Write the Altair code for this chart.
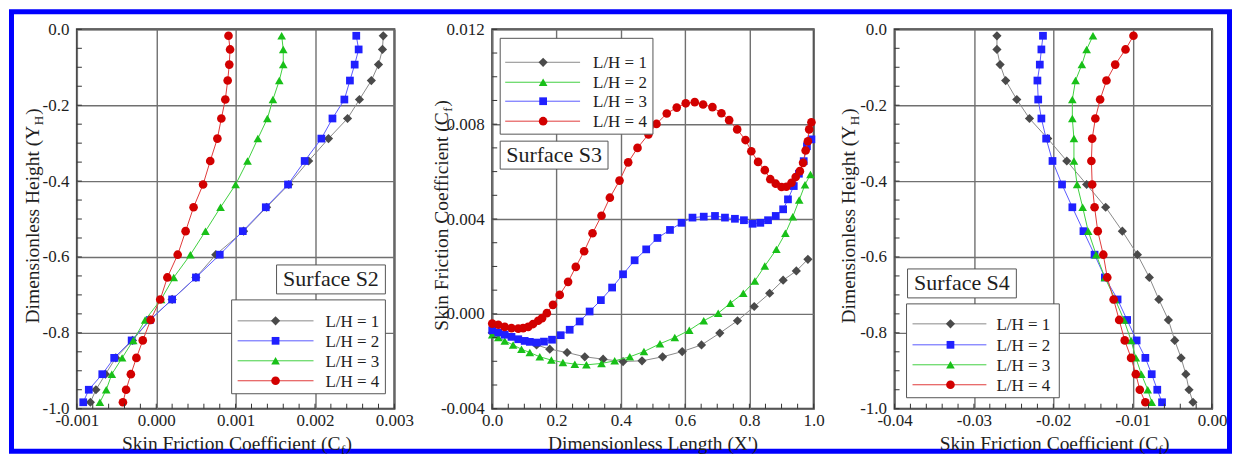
import altair as alt
import pandas as pd

FONT = "Liberation Serif"

# ---------------- data ----------------
# Surface S2 / S4 : profiles along dimensionless height
Y_PROFILE = [-0.017, -0.053, -0.093, -0.135, -0.185, -0.235, -0.288, -0.347, -0.409, -0.469,
             -0.532, -0.594, -0.654, -0.712, -0.766, -0.820, -0.866, -0.909, -0.950, -0.983]

S2_LH1 = [0.00286, 0.00285, 0.00280, 0.00271, 0.00256, 0.00241, 0.00217, 0.00192, 0.00167, 0.00139,
          0.00110, 0.00075, 0.00050, 0.00020, -0.00008, -0.00030, -0.00051, -0.00064, -0.00076, -0.00083]
S2_LH2 = [0.00252, 0.00255, 0.00250, 0.00244, 0.00237, 0.00222, 0.00208, 0.00187, 0.00166, 0.00138,
          0.00109, 0.00080, 0.00050, 0.00020, -0.00008, -0.00031, -0.00053, -0.00068, -0.00085, -0.00092]
S2_LH3 = [0.00158, 0.00160, 0.00160, 0.00155, 0.00147, 0.00140, 0.00128, 0.00115, 0.00100, 0.00081,
          0.00062, 0.00043, 0.00022, 0.00006, -0.00014, -0.00029, -0.00043, -0.00056, -0.00063, -0.00071]
S2_LH4 = [0.00091, 0.00093, 0.00092, 0.00090, 0.00087, 0.00082, 0.00077, 0.00068, 0.00059, 0.00047,
          0.00037, 0.00027, 0.00014, 0.00005, -0.00007, -0.00017, -0.00025, -0.00032, -0.00038, -0.00042]

S4_LH1 = [-0.0271, -0.0271, -0.0267, -0.0260, -0.0246, -0.0230, -0.0207, -0.0183, -0.0158, -0.0134,
          -0.0113, -0.0094, -0.0079, -0.0067, -0.0055, -0.0047, -0.0039, -0.0033, -0.0029, -0.0024]
S4_LH2 = [-0.0213, -0.0215, -0.0217, -0.0220, -0.0219, -0.0215, -0.0209, -0.0201, -0.0189, -0.0176,
          -0.0162, -0.0148, -0.0135, -0.0119, -0.0107, -0.0095, -0.0084, -0.0076, -0.0069, -0.0063]
S4_LH3 = [-0.0150, -0.0158, -0.0164, -0.0172, -0.0176, -0.0176, -0.0174, -0.0174, -0.0170, -0.0163,
          -0.0156, -0.0146, -0.0135, -0.0122, -0.0111, -0.0102, -0.0096, -0.0089, -0.0081, -0.0076]
S4_LH4 = [-0.0099, -0.0109, -0.0122, -0.0133, -0.0141, -0.0147, -0.0151, -0.0152, -0.0151, -0.0148,
          -0.0144, -0.0137, -0.0132, -0.0124, -0.0117, -0.0110, -0.0102, -0.0096, -0.0091, -0.0084]

# Surface S3 : distributions along dimensionless length
S3_LH1_X = [0.0, 0.138, 0.179, 0.233, 0.288, 0.345, 0.407, 0.466, 0.530, 0.591, 0.651, 0.708, 0.763,
            0.815, 0.863, 0.905, 0.946, 0.982]
S3_LH1_Y = [-0.00080, -0.00131, -0.00149, -0.00163, -0.00181, -0.00191, -0.00201, -0.00198, -0.00181,
            -0.00159, -0.00131, -0.00081, -0.00029, 0.00031, 0.00087, 0.00142, 0.00181, 0.00230]

S3_LH2_X = [0.0, 0.019, 0.039, 0.065, 0.091, 0.117, 0.148, 0.184, 0.220, 0.257, 0.293, 0.340, 0.381,
            0.428, 0.472, 0.522, 0.568, 0.613, 0.658, 0.703, 0.741, 0.781, 0.817, 0.848, 0.884, 0.912,
            0.935, 0.955, 0.973, 0.990]
S3_LH2_Y = [-0.00088, -0.00100, -0.00114, -0.00131, -0.00149, -0.00163, -0.00181, -0.00195, -0.00205,
            -0.00212, -0.00215, -0.00209, -0.00198, -0.00181, -0.00159, -0.00126, -0.00100, -0.00069,
            -0.00029, 0.00003, 0.00045, 0.00087, 0.00139, 0.00202, 0.00272, 0.00340, 0.00410, 0.00480,
            0.00545, 0.00588]

S3_LH3_X = [0.0, 0.019, 0.039, 0.060, 0.081, 0.101, 0.117, 0.138, 0.161, 0.186, 0.213, 0.241, 0.272,
            0.303, 0.338, 0.373, 0.407, 0.443, 0.479, 0.514, 0.553, 0.589, 0.623, 0.658, 0.693, 0.724,
            0.755, 0.783, 0.810, 0.834, 0.858, 0.882, 0.905, 0.920, 0.938, 0.954, 0.969, 0.979, 0.993]
S3_LH3_Y = [-0.00069, -0.00079, -0.00088, -0.00097, -0.00107, -0.00114, -0.00118, -0.00121, -0.00117,
            -0.00109, -0.00090, -0.00067, -0.00032, 0.00010, 0.00058, 0.00111, 0.00167, 0.00226,
            0.00272, 0.00320, 0.00354, 0.00384, 0.00406, 0.00410, 0.00413, 0.00406, 0.00401, 0.00395,
            0.00380, 0.00384, 0.00395, 0.00413, 0.00441, 0.00483, 0.00539, 0.00591, 0.00644, 0.00707,
            0.00736]

S3_LH4_X = [0.0, 0.019, 0.039, 0.060, 0.081, 0.096, 0.112, 0.127, 0.143, 0.155, 0.170, 0.189, 0.210,
            0.236, 0.260, 0.286, 0.312, 0.340, 0.366, 0.396, 0.423, 0.452, 0.486, 0.511, 0.543, 0.574,
            0.602, 0.630, 0.656, 0.685, 0.713, 0.737, 0.762, 0.788, 0.806, 0.827, 0.848, 0.865, 0.882,
            0.900, 0.915, 0.931, 0.944, 0.957, 0.967, 0.975, 0.982, 0.986, 0.993]
S3_LH4_Y = [-0.00041, -0.00046, -0.00055, -0.00060, -0.00062, -0.00060, -0.00055, -0.00043, -0.00029,
            -0.00018, 0.00003, 0.00038, 0.00080, 0.00135, 0.00198, 0.00264, 0.00340, 0.00414, 0.00490,
            0.00562, 0.00639, 0.00700, 0.00757, 0.00801, 0.00845, 0.00870, 0.00888, 0.00893, 0.00883,
            0.00872, 0.00846, 0.00817, 0.00778, 0.00733, 0.00686, 0.00641, 0.00606, 0.00568, 0.00549,
            0.00535, 0.00536, 0.00553, 0.00577, 0.00602, 0.00637, 0.00689, 0.00728, 0.00778, 0.00808]

LEGEND_LABELS = ["L/H = 1", "L/H = 2", "L/H = 3", "L/H = 4"]

# ticks
S2_XTICKS = [-0.001, 0.0, 0.001, 0.002, 0.003]
S4_XTICKS = [-0.04, -0.03, -0.02, -0.01, 0.0]
S3_XTICKS = [0.0, 0.2, 0.4, 0.6, 0.8, 1.0]
S3_YTICKS = [-0.004, 0.0, 0.004, 0.008, 0.012]
H_YTICKS = [0.0, -0.2, -0.4, -0.6, -0.8, -1.0]
S2_XMINOR = [round(-0.001 + 0.0002 * k, 5) for k in range(21)]
S4_XMINOR = [round(-0.04 + 0.002 * k, 4) for k in range(21)]
S3_XMINOR = [round(0.05 * k, 3) for k in range(21)]
S3_YMINOR = [round(-0.004 + 0.001 * k, 4) for k in range(17)]
H_YMINOR = [round(-1.0 + 0.05 * k, 3) for k in range(21)]

# ---------------- styles ----------------
GRAY = ("#8a8a8a", "#4a4a4a", "diamond", 85)
BLUE = ("#5a5aff", "#2020ff", "square", 60)
GREEN = ("#40d040", "#18c018", "triangle-up", 75)
RED = ("#e03a3a", "#d20000", "circle", 75)

W1, W2, W3, H = 318, 322, 318, 380
GRID = "#707070"
TXT = "#1e1e1e"
TITLE_Y = 421


def axis(values, fmt, orient):
    return alt.Axis(values=values, grid=True, gridColor=GRID, gridWidth=1.4, ticks=False,
                    domain=False, title=None, labelFont=FONT, labelFontSize=17, labelColor=TXT,
                    labelPadding=4 if orient == "x" else 8, labelFlush=False, labelOverlap=False,
                    labelExpr=f"replace(format(datum.value, '{fmt}'), '\u2212', '-')")


def series(xs, ys, style, xenc, yenc):
    df = pd.DataFrame({"x": xs, "y": ys, "i": list(range(len(xs)))})
    lc, mc, shape, size = style
    base = alt.Chart(df)
    line = base.mark_line(color=lc, strokeWidth=1).encode(x=xenc, y=yenc, order="i:Q")
    pts = base.mark_point(filled=True, shape=shape, size=size, color=mc, opacity=1,
                          strokeWidth=0).encode(x=xenc, y=yenc)
    return [line, pts]


def minor_ticks(xminor, yminor, xenc, yenc):
    dx = pd.DataFrame({"x": xminor})
    dy = pd.DataFrame({"y": yminor})
    tx = alt.Chart(dx).mark_rule(color="#333333", strokeWidth=1).encode(
        x=xenc, y=alt.value(H), y2=alt.value(H - 5))
    ty = alt.Chart(dy).mark_rule(color="#333333", strokeWidth=1).encode(
        y=yenc, x=alt.value(0), x2=alt.value(5))
    return [tx, ty]


def one():
    return pd.DataFrame({"a": [0]})


def txt(text, x, y, size=19.5, align="left", angle=0, baseline="alphabetic"):
    kw = dict(text=text, font=FONT, fontSize=size, align=align, baseline=baseline, color=TXT)
    if angle:
        kw["angle"] = angle
    return alt.Chart(one()).mark_text(**kw).encode(x=alt.value(x), y=alt.value(y))


def box(x1, x2, y1, y2):
    return alt.Chart(one()).mark_rect(fill="white", stroke="#555555", strokeWidth=1).encode(
        x=alt.value(x1), x2=alt.value(x2), y=alt.value(y1), y2=alt.value(y2))


def legend(styles, bx, by, rows, lx1, lx2, mx, tx, surf_label, sbx, sby, scx, scy):
    layers = [box(*bx, *by)]
    for lab, st, ry in zip(LEGEND_LABELS, styles, rows):
        lc, mc, shape, size = st
        layers.append(alt.Chart(one()).mark_rule(color=lc, strokeWidth=1).encode(
            x=alt.value(lx1), x2=alt.value(lx2), y=alt.value(ry)))
        layers.append(alt.Chart(one()).mark_point(filled=True, shape=shape, size=size, color=mc,
                                                  opacity=1, strokeWidth=0).encode(
            x=alt.value(mx), y=alt.value(ry)))
        layers.append(txt(lab, tx, ry + 6, size=17))
    layers.append(box(*sbx, *sby))
    layers.append(txt(surf_label, scx, scy + 7, size=22, align="center"))
    return layers


def cf_title_x(anchor, y):
    return [txt("Skin Friction Coefficient (C", anchor, y, align="right"),
            txt("f", anchor + 0.5, y + 4, size=13),
            txt(")", anchor + 5, y)]


def y_title(main, sub, x, anchor, subw):
    return [txt(main, x, anchor, align="right", angle=270),
            txt(sub, x + 4, anchor - 0.5, size=13, angle=270),
            txt(")", x, anchor - subw - 1.5, angle=270)]


# ---------------- panel S2 ----------------
x2 = alt.X("x:Q", scale=alt.Scale(domain=[-0.001, 0.003], nice=False, zero=False),
           axis=axis(S2_XTICKS, ".3f", "x"))
yh = alt.Y("y:Q", scale=alt.Scale(domain=[-1.0, 0.0], nice=False, zero=False),
           axis=axis(H_YTICKS, ".1f", "y"))

frame = alt.Chart(one()).mark_rect(fill="transparent", stroke="#0000ff", strokeWidth=5).encode(
    x=alt.value(-65.5), x2=alt.value(1154.5), y=alt.value(-17.5), y2=alt.value(422.5))

p1_layers = [frame]
for xs, st in [(S2_LH1, GRAY), (S2_LH2, BLUE), (S2_LH3, GREEN), (S2_LH4, RED)]:
    p1_layers += series(xs, Y_PROFILE, st, x2, yh)
p1_layers += minor_ticks(S2_XMINOR, H_YMINOR, x2, yh)
p1_layers += legend([GRAY, BLUE, GREEN, RED], (155, 309), (271, 365), [292, 312, 332, 352],
                    161, 237, 199, 249, "Surface S2", (200, 309), (236, 265), 254.5, 250.5)
p1_layers += cf_title_x(264, TITLE_Y)
p1_layers += y_title("Dimensionless Height (Y", "H", -38, 96.5, 9.4)
p1 = alt.layer(*p1_layers).properties(width=W1, height=H)

# ---------------- panel S3 ----------------
x3 = alt.X("x:Q", scale=alt.Scale(domain=[0.0, 1.0], nice=False, zero=False),
           axis=axis(S3_XTICKS, ".1f", "x"))
y3 = alt.Y("y:Q", scale=alt.Scale(domain=[-0.004, 0.012], nice=False, zero=False),
           axis=axis(S3_YTICKS, ".3f", "y"))
p2_layers = []
for xs, ys, st in [(S3_LH1_X, S3_LH1_Y, GRAY), (S3_LH2_X, S3_LH2_Y, GREEN),
                   (S3_LH3_X, S3_LH3_Y, BLUE), (S3_LH4_X, S3_LH4_Y, RED)]:
    p2_layers += series(xs, ys, st, x3, y3)
p2_layers += minor_ticks(S3_XMINOR, S3_YMINOR, x3, y3)
p2_layers += legend([GRAY, GREEN, BLUE, RED], (8, 161), (9, 105), [33, 53, 72, 92],
                    13, 88, 51, 101, "Surface S3", (8, 116), (112, 140), 62, 126)
p2_layers += [txt("Dimensionless Length (X')", W2 / 2, TITLE_Y, align="center")]
p2_layers += y_title("Skin Friction Coefficient (C", "f", -44, 83, 4.3)
p2 = alt.layer(*p2_layers).properties(width=W2, height=H)

# ---------------- panel S4 ----------------
x4 = alt.X("x:Q", scale=alt.Scale(domain=[-0.04, 0.0], nice=False, zero=False),
           axis=axis(S4_XTICKS, ".2f", "x"))
p3_layers = []
for xs, st in [(S4_LH1, GRAY), (S4_LH2, BLUE), (S4_LH3, GREEN), (S4_LH4, RED)]:
    p3_layers += series(xs, Y_PROFILE, st, x4, yh)
p3_layers += minor_ticks(S4_XMINOR, H_YMINOR, x4, yh)
p3_layers += legend([GRAY, BLUE, GREEN, RED], (12, 165), (275, 369), [295, 316, 336, 356],
                    18, 92, 56, 102, "Surface S4", (13, 122), (240, 269), 67.5, 254.5)
p3_layers += cf_title_x(264, TITLE_Y)
p3_layers += y_title("Dimensionless Height (Y", "H", -40, 96.5, 9.4)
p3 = alt.layer(*p3_layers).properties(width=W3, height=H)


def spacer(w):
    return alt.Chart(one()).mark_point(opacity=0).encode(
        x=alt.value(0), y=alt.value(0)).properties(
        width=w, height=H, view=alt.ViewBackground(stroke="transparent"))


chart = alt.hconcat(p1, spacer(98), p2, spacer(81), p3, spacing=0, bounds="flush").properties(
    padding=0, background="white").configure_view(
    stroke="#3a3a3a", strokeWidth=2).configure_axis(
    labelFont=FONT, labelFontSize=17, labelColor=TXT)

chart.save("out.html", embed_options={"renderer": "svg", "actions": False})
